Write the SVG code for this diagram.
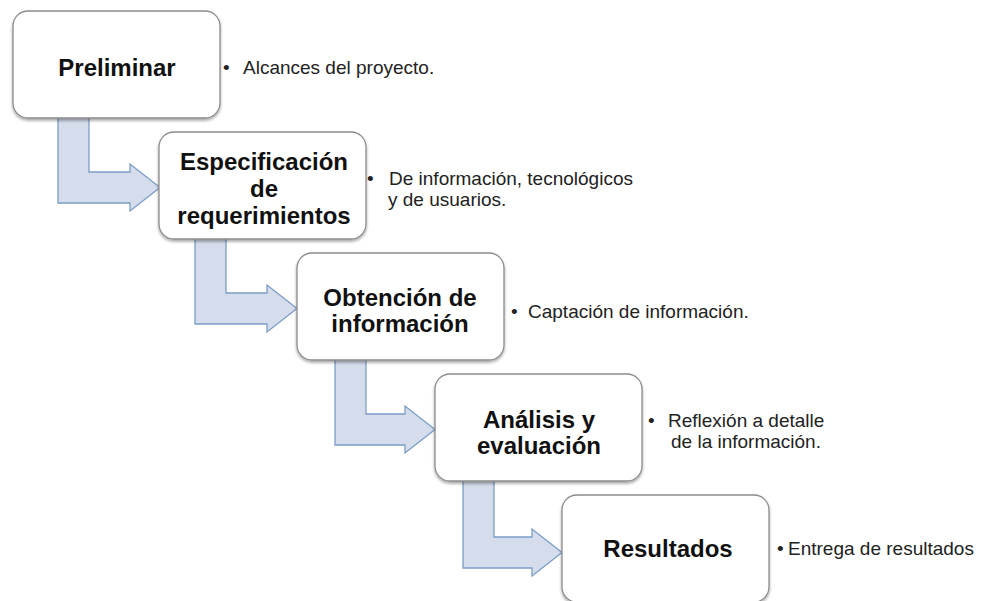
<svg xmlns="http://www.w3.org/2000/svg" width="981" height="601" viewBox="0 0 981 601">
<defs>
<filter id="sh" x="-10%" y="-10%" width="120%" height="130%">
<feGaussianBlur in="SourceAlpha" stdDeviation="1.5"/>
<feOffset dx="0" dy="2" result="b"/>
<feComponentTransfer><feFuncA type="linear" slope="0.35"/></feComponentTransfer>
<feMerge><feMergeNode/><feMergeNode in="SourceGraphic"/></feMerge>
</filter>
</defs>
<style>
.box{fill:#ffffff;stroke:#8c8c8c;stroke-width:1.3;}
.arr{fill:#d5ddec;stroke:#7b9dc6;stroke-width:1.3;stroke-linejoin:miter;}
.t{font-family:"Liberation Sans",Arial,sans-serif;font-weight:bold;font-size:24px;fill:#111;text-anchor:middle;}
.d{font-family:"Liberation Sans",Arial,sans-serif;font-size:19px;fill:#222;}
</style>
<rect width="981" height="601" fill="#ffffff"/>
<g id="connectors">
<polygon class="arr" points="58,115 89,115 89,172 130,172 130,164 160,187.5 130,211 130,203 58,203"/>
<polygon class="arr" points="195,236 226,236 226,293 267,293 267,285 297,308.5 267,332 267,324 195,324"/>
<polygon class="arr" points="335,357 366,357 366,414 405,414 405,406 435,429.5 405,453 405,445 335,445"/>
<polygon class="arr" points="463,478 494,478 494,537 532,537 532,529 562,552.5 532,576 532,568 463,568"/>
</g>
<g id="n1">
<rect class="box" x="13" y="11" width="207" height="107" rx="15" filter="url(#sh)"/>
<text class="t" x="117" y="76">Preliminar</text>
<text class="d" x="223" y="74">•</text>
<text class="d" x="243" y="74">Alcances del proyecto.</text>
</g>
<g id="n2">
<rect class="box" x="159" y="132" width="207" height="107" rx="15" filter="url(#sh)"/>
<text class="t" x="264" y="170">Especificación</text>
<text class="t" x="264" y="197">de</text>
<text class="t" x="264" y="224">requerimientos</text>
<text class="d" x="367" y="185">•</text>
<text class="d" x="389" y="185">De información, tecnológicos</text>
<text class="d" x="388" y="206">y de usuarios.</text>
</g>
<g id="n3">
<rect class="box" x="297" y="253" width="207" height="107" rx="15" filter="url(#sh)"/>
<text class="t" x="400" y="306">Obtención de</text>
<text class="t" x="400" y="332">información</text>
<text class="d" x="511" y="318">•</text>
<text class="d" x="528" y="318">Captación de información.</text>
</g>
<g id="n4">
<rect class="box" x="435" y="374" width="207" height="107" rx="15" filter="url(#sh)"/>
<text class="t" x="539" y="428">Análisis y</text>
<text class="t" x="539" y="454">evaluación</text>
<text class="d" x="648" y="427">•</text>
<text class="d" x="668" y="427">Reflexión a detalle</text>
<text class="d" x="671" y="448">de la información.</text>
</g>
<g id="n5">
<rect class="box" x="562" y="495" width="207" height="107" rx="15" filter="url(#sh)"/>
<text class="t" x="668" y="557">Resultados</text>
<text class="d" x="777" y="555">•</text>
<text class="d" x="788" y="555">Entrega de resultados</text>
</g>
</svg>
